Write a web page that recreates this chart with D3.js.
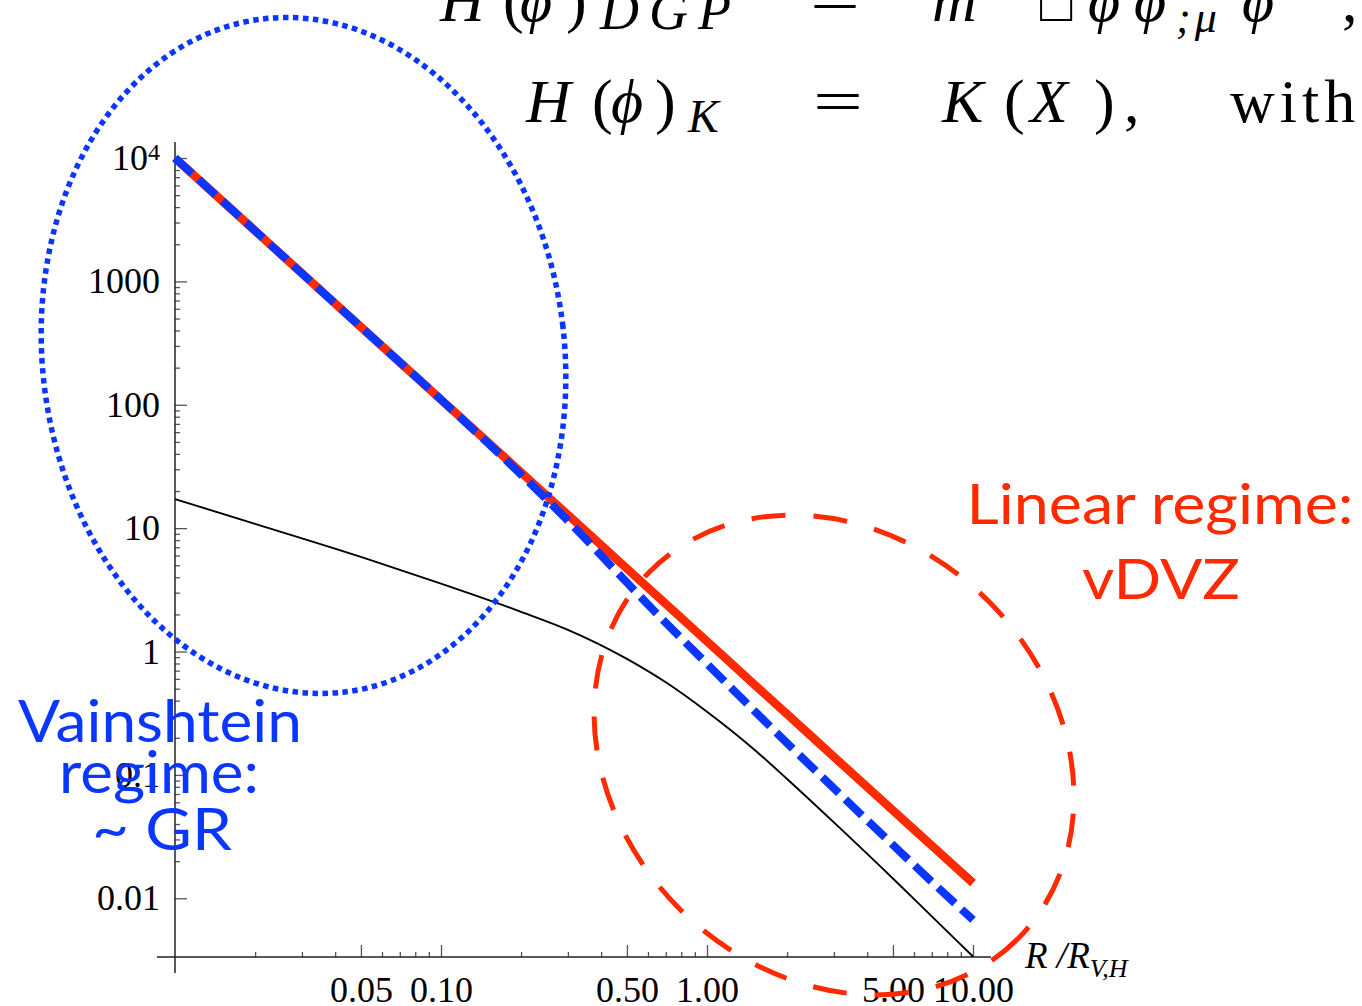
<!DOCTYPE html>
<html><head><meta charset="utf-8">
<script src="https://cdn.jsdelivr.net/npm/d3@7"></script>
<style>body{margin:0;background:#fff;overflow:hidden}</style>
</head><body>
<svg id="chart" width="1362" height="1006"></svg>
<script>
// ---- data ----
const radius = [0.01, 0.02, 0.05, 0.1, 0.2, 0.3, 0.5, 0.7, 1, 1.5, 2, 3, 5, 7, 10];
const linearForce = [10000, 2573, 427, 110, 28.3, 12.8, 4.70, 2.43, 1.21, 0.545, 0.311, 0.140, 0.0515, 0.0267, 0.0133];
const dgpForce    = [10000, 2573, 427, 110, 27.2, 11.5, 3.62, 1.71, 0.795, 0.334, 0.181, 0.0778, 0.0271, 0.0136, 0.00668];
const kForce      = [17.2, 10.84, 5.85, 3.55, 2.10, 1.50, 0.872, 0.563, 0.325, 0.1615, 0.0927, 0.0412, 0.01446, 0.00713, 0.00337];
const xTicks = [0.05, 0.1, 0.5, 1, 5, 10];
const xTickLabels = ["0.05", "0.10", "0.50", "1.00", "5.00", "10.00"];
const yTicks = [0.01, 0.1, 1, 10, 100, 1000, 10000];
const yTickLabels = ["0.01", "0.1", "1", "10", "100", "1000", "10^4"];

const RED = "#ff2a00", BLUE = "#0a36ff";
const serif = "'Liberation Serif','DejaVu Serif',serif";
const sans = "Lato,'Open Sans',sans-serif";

const svg = d3.select("#chart");
const x = d3.scaleLog().domain([0.01, 10]).range([175, 973]);
const y = d3.scaleLog().domain([Math.pow(10, -2.476), Math.pow(10, 4.13)]).range([957, 142]);

// ---- equations (partly cropped at top) ----
const eq = svg.append("g").attr("font-family", serif).attr("fill", "#000");
function piece(txt, px, py, size, italic, tl, ls) {
  const t = eq.append("text").attr("x", px).attr("y", py).attr("font-size", size)
    .attr("font-style", italic ? "italic" : "normal").text(txt);
  if (tl) t.attr("textLength", tl).attr("lengthAdjust", "spacingAndGlyphs");
  if (ls) t.attr("letter-spacing", ls);
  return t;
}
// line 1
piece("H", 440, 21, 62, true);
piece("(", 503, 21, 62, false);
piece("\u03D5", 520, 21, 62, true);
piece(")", 566, 21, 62, false);
piece("DGP", 600, 29, 54, true, null, 10);
piece("=", 810, 21, 62, false, 50);
piece("m", 932, 21, 62, true);
piece("\u25A1", 1040, 21, 54, false);
piece("\u03D5", 1088, 21, 62, true);
piece("\u03D5", 1134, 21, 62, true);
piece(";\u03BC", 1176, 32, 44, true, null, 4);
piece("\u03D5", 1242, 21, 62, true);
piece(",", 1342, 21, 62, false);
// line 2
piece("H", 526, 122, 62, true);
piece("(", 592, 122, 62, false);
piece("\u03D5", 611, 122, 62, true);
piece(")", 655, 122, 62, false);
piece("K", 688, 132, 46, true);
piece("=", 813, 122, 62, false, 50);
piece("K", 942, 122, 62, true);
piece("(", 1004, 122, 62, false);
piece("X", 1030, 122, 62, true);
piece(")", 1094, 122, 62, false);
piece(",", 1124, 122, 62, false);
piece("with", 1230, 122, 62, false, null, 5);

// ---- axes ----
const minorX = [];
[0.01, 0.1, 1].forEach(d => { for (let m = 2; m <= 9; m++) { const v = +(d * m).toPrecision(3); if (!xTicks.includes(v)) minorX.push(v); } });
const minorY = [];
[0.01, 0.1, 1, 10, 100, 1000].forEach(d => { for (let m = 2; m <= 9; m++) minorY.push(+(d * m).toPrecision(3)); });

const gxMinor = svg.append("g").attr("transform", "translate(0,957)")
  .call(d3.axisBottom(x).tickValues(minorX).tickFormat("").tickSizeInner(-5).tickSizeOuter(0));
const gx = svg.append("g").attr("transform", "translate(0,957)")
  .call(d3.axisBottom(x).tickValues(xTicks).tickFormat((d, i) => xTickLabels[i])
    .tickSizeInner(-12).tickSizeOuter(0).tickPadding(19));
const gyMinor = svg.append("g").attr("transform", "translate(175,0)")
  .call(d3.axisLeft(y).tickValues(minorY).tickFormat("").tickSizeInner(-5).tickSizeOuter(0));
const gy = svg.append("g").attr("transform", "translate(175,0)")
  .call(d3.axisLeft(y).tickValues(yTicks).tickFormat((d, i) => yTickLabels[i])
    .tickSizeInner(-12).tickSizeOuter(0).tickPadding(15));
[gx, gy, gxMinor, gyMinor].forEach(g => {
  g.select(".domain").remove();
  g.attr("font-family", serif).attr("font-size", 36);
  g.selectAll(".tick line").attr("stroke", "#555").attr("stroke-width", 1.3);
  g.selectAll(".tick text").attr("fill", "#000");
});
gy.selectAll(".tick text").each(function (d, i) {
  const lab = yTickLabels[i];
  if (lab.includes("^")) {
    const [b, e] = lab.split("^");
    const t = d3.select(this).text("");
    t.append("tspan").text(b);
    t.append("tspan").attr("dy", "-0.42em").attr("font-size", 24).text(e);
  }
});
svg.append("line").attr("x1", 157).attr("x2", 991).attr("y1", 957).attr("y2", 957)
  .attr("stroke", "#222").attr("stroke-width", 1.5);
svg.append("line").attr("x1", 175).attr("x2", 175).attr("y1", 142).attr("y2", 973)
  .attr("stroke", "#222").attr("stroke-width", 1.5);

// axis label
const xl = svg.append("text").attr("x", 1025).attr("y", 968).attr("font-family", serif)
  .attr("font-size", 37).attr("font-style", "italic");
xl.append("tspan").text("R /R");
xl.append("tspan").attr("dy", 9).attr("font-size", 26).text("V,H");

// ---- curves ----
const lineGen = arr => d3.line().x((d, i) => x(radius[i])).y(d => y(d)).curve(d3.curveMonotoneX)(arr);
svg.append("path").attr("d", lineGen(kForce)).attr("fill", "none").attr("stroke", "#000").attr("stroke-width", 1.9);
svg.append("path").attr("d", lineGen(linearForce)).attr("fill", "none").attr("stroke", RED).attr("stroke-width", 8.5);
svg.append("path").attr("d", lineGen(dgpForce)).attr("fill", "none").attr("stroke", BLUE).attr("stroke-width", 8)
  .attr("stroke-dasharray", "23 9");

// ---- annotation ellipses ----
svg.append("ellipse").attr("cx", 0).attr("cy", 0).attr("rx", 261).attr("ry", 339)
  .attr("transform", "translate(303.5,355.5) rotate(-7)")
  .attr("fill", "none").attr("stroke", BLUE).attr("stroke-width", 5.5).attr("stroke-dasharray", "5.5 4.5");
svg.append("ellipse").attr("cx", 0).attr("cy", 0).attr("rx", 260).attr("ry", 218)
  .attr("transform", "translate(834,755) rotate(45)")
  .attr("fill", "none").attr("stroke", RED).attr("stroke-width", 5).attr("stroke-dasharray", "34 28");

// ---- annotation texts ----
function label(txt, cx, by, size, color, w) {
  svg.append("text").attr("x", cx).attr("y", by).attr("text-anchor", "middle")
    .attr("font-family", sans).attr("font-size", size).attr("fill", color)
    .attr("textLength", w).attr("lengthAdjust", "spacingAndGlyphs").text(txt);
}
label("Linear regime:", 1160, 524, 57, RED, 387);
label("vDVZ", 1161, 599, 57, RED, 158);
label("Vainshtein", 160, 742, 58, BLUE, 284);
label("regime:", 159, 793, 58, BLUE, 200);
label("~ GR", 162, 850, 58, BLUE, 140);
</script>
</body></html>
